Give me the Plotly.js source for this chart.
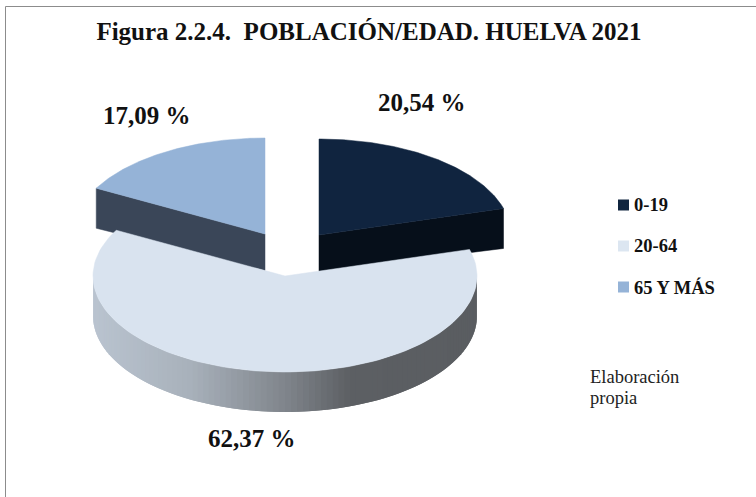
<!DOCTYPE html>
<html>
<head>
<meta charset="utf-8">
<script src="https://cdn.plot.ly/plotly-3.0.1.min.js"></script>
<style>html,body{margin:0;padding:0;background:#fff}#chart{width:756px;height:497px}</style>
</head>
<body>
<div id="chart"></div>
<script>
const categories = ['0-19', '20-64', '65 Y MÁS'];
const values = [20.54, 62.37, 17.09];
const topColors = ['#10243f', '#d9e3ef', '#95b3d7'];
const cutColors = ['#060f1a', '#d9e3ef', '#3a4658'];
const legendColors = ['#10253f', '#dce6f1', '#95b3d7'];
const titleText = 'Figura 2.2.4.\u00a0\u00a0POBLACIÓN/EDAD. HUELVA 2021';
const noteLines = ['Elaboración', 'propia'];

// Pie geometry on pixel-like axes
const RX = 192, RY = 96, DEPTH = 40, APEX_DEPTH = 36.5;
const centers = [[319, 235], [285, 276], [265, 234]];
const labelPos = [[422, 102], [252, 438], [147, 115]];
const legendY = [205, 246, 287];
const noteY = [377, 398];
const FONT = '"Liberation Serif", serif';

const total = values.reduce((a, b) => a + b, 0);
const bounds = [];
let acc = 0;
values.forEach(v => { bounds.push([acc / total * 2 * Math.PI, (acc + v) / total * 2 * Math.PI]); acc += v; });

function pt(c, a) { return [c[0] + RX * Math.sin(a), c[1] - RY * Math.cos(a)]; }
function poly(points, color, name, width) {
  return { type: 'scatter', mode: 'lines', x: points.map(p => p[0]), y: points.map(p => p[1]),
    fill: 'toself', fillcolor: color, line: { color: color, width: width === undefined ? 0.5 : width },
    hoverinfo: 'skip', showlegend: false, name: name };
}
function wedge(i) {
  const c = centers[i], [a0, a1] = bounds[i], pts = [c];
  const n = 120;
  for (let k = 0; k <= n; k++) pts.push(pt(c, a0 + (a1 - a0) * k / n));
  pts.push(c);
  return poly(pts, topColors[i], categories[i]);
}
function cutFace(i, a) {
  const c = centers[i], e = pt(c, a);
  return poly([c, e, [e[0], e[1] + DEPTH], [c[0], c[1] + APEX_DEPTH], c], cutColors[i], categories[i] + ' corte');
}
function lerp(stops, x) {
  for (let i = 1; i < stops.length; i++) {
    if (x <= stops[i][0]) {
      const s = stops[i - 1], e = stops[i], t = (x - s[0]) / (e[0] - s[0]);
      return 'rgb(' + [1, 2, 3].map(k => Math.round(s[k] + (e[k] - s[k]) * t)).join(',') + ')';
    }
  }
  const l = stops[stops.length - 1];
  return 'rgb(' + l[1] + ',' + l[2] + ',' + l[3] + ')';
}
const sideStops = [[90, 186, 196, 208], [190, 168, 177, 187], [285, 128, 133, 140], [350, 92, 95, 99], [480, 90, 93, 97]];
function sideStrips(i) {
  const c = centers[i], out = [], n = 100;
  const start = Math.PI / 2, end = 3 * Math.PI / 2;
  const at = k => start + (end - start) * Math.min(k, n) / n;
  // Each strip overlaps the next one so no seams show between them.
  for (let k = 0; k < n; k++) {
    const pts = [];
    for (let j = k; j <= k + 2; j++) pts.push(pt(c, at(j)));
    const low = pts.slice().reverse().map(p => [p[0], p[1] + DEPTH]);
    const mid = pt(c, at(k + 0.5));
    out.push(poly(pts.concat(low, [pts[0]]), lerp(sideStops, mid[0]), categories[i] + ' lateral', 0));
  }
  return out;
}

const traces = [];
traces.push(cutFace(2, bounds[2][0]), wedge(2));
traces.push(cutFace(0, bounds[0][1]), wedge(0));
traces.push(...sideStrips(1), wedge(1));
categories.forEach((cat, i) => traces.push({
  type: 'scatter', mode: 'markers', x: [623.5], y: [legendY[i]],
  marker: { symbol: 'square', size: 11, color: legendColors[i] }, hoverinfo: 'skip', showlegend: false, name: cat
}));

const annotations = [];
values.forEach((v, i) => annotations.push({
  x: labelPos[i][0], y: labelPos[i][1], xref: 'x', yref: 'y', showarrow: false,
  text: '<b>' + v.toFixed(2).replace('.', ',') + ' %</b>', font: { family: FONT, size: 25, color: '#111' }
}));
categories.forEach((cat, i) => annotations.push({
  x: 632, y: legendY[i], xref: 'x', yref: 'y', xanchor: 'left', showarrow: false,
  text: '<b>' + cat + '</b>', font: { family: FONT, size: 18.5, color: '#111' }
}));
noteLines.forEach((line, i) => annotations.push({
  x: 588, y: noteY[i], xref: 'x', yref: 'y', xanchor: 'left', showarrow: false,
  text: line, font: { family: FONT, size: 18.5, color: '#222' }
}));

const hidden = { visible: false, fixedrange: true };
Plotly.newPlot('chart', traces, {
  width: 756, height: 497,
  margin: { l: 0, r: 0, t: 0, b: 0 },
  paper_bgcolor: '#fff', plot_bgcolor: '#fff', showlegend: false,
  title: { text: '<b>' + titleText + '</b>', x: 369 / 756, xanchor: 'center', y: 1 - 31 / 497, yanchor: 'middle',
    font: { family: FONT, size: 25, color: '#111' } },
  xaxis: Object.assign({ range: [0, 756] }, hidden),
  yaxis: Object.assign({ range: [497, 0] }, hidden),
  annotations: annotations,
  shapes: [
    { type: 'line', xref: 'paper', yref: 'paper', x0: 5.5 / 756, x1: 1, y0: 1 - 6.5 / 497, y1: 1 - 6.5 / 497, line: { color: '#8c8c8c', width: 1 } },
    { type: 'line', xref: 'paper', yref: 'paper', x0: 5.5 / 756, x1: 5.5 / 756, y0: 0, y1: 1 - 6.5 / 497, line: { color: '#8c8c8c', width: 1 } }
  ]
}, { displayModeBar: false, staticPlot: true });
</script>
</body>
</html>
